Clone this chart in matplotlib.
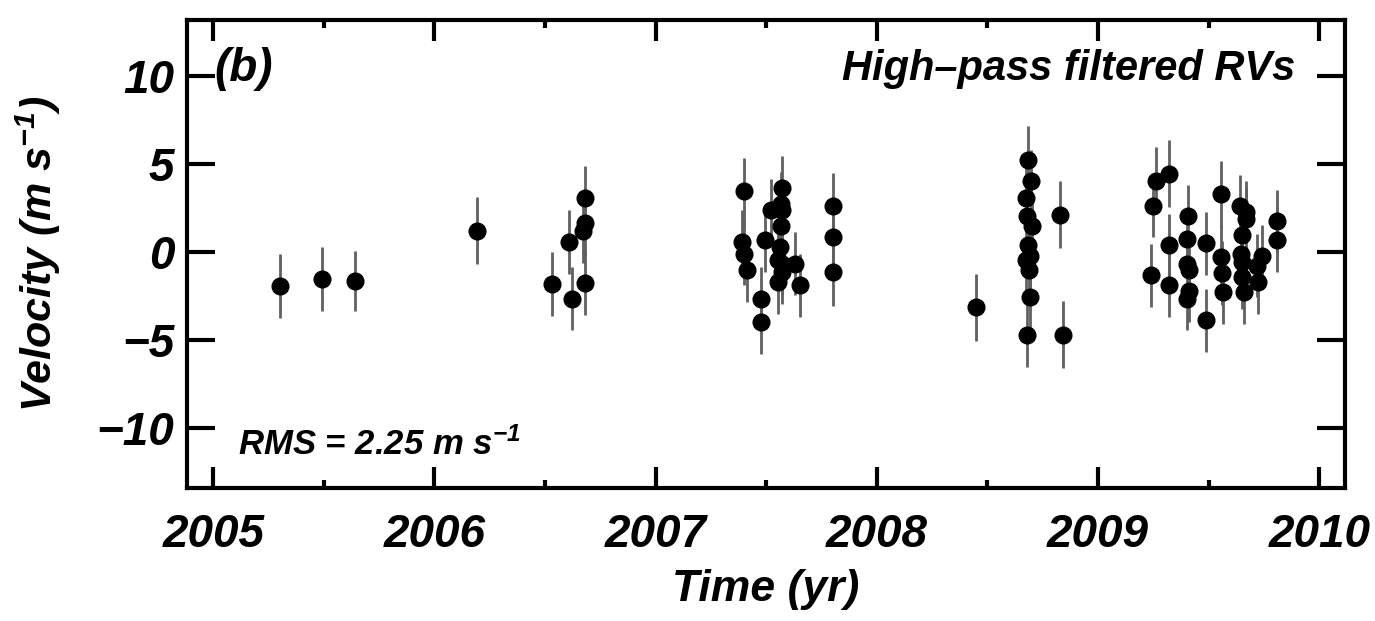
import matplotlib
matplotlib.use('Agg')
import matplotlib.pyplot as plt
from matplotlib.ticker import MultipleLocator

plt.rcParams['font.family'] = ['Liberation Sans', 'DejaVu Sans']
plt.rcParams['font.weight'] = 'bold'
plt.rcParams['font.style'] = 'italic'
plt.rcParams['axes.labelweight'] = 'bold'
plt.rcParams['mathtext.default'] = 'regular'

# epoca (ano decimal), velocidade filtrada e erro, em m/s
tempo = [2005.30, 2005.49, 2005.64,
         2006.19, 2006.53, 2006.61, 2006.62, 2006.68, 2006.68, 2006.67, 2006.68,
         2007.40, 2007.39, 2007.40, 2007.415, 2007.476, 2007.474, 2007.495,
         2007.52, 2007.57, 2007.565, 2007.57, 2007.565, 2007.56, 2007.555,
         2007.57, 2007.57, 2007.555, 2007.63, 2007.654, 2007.80, 2007.80, 2007.80,
         2008.45, 2008.684, 2008.696, 2008.672, 2008.677, 2008.70, 2008.684,
         2008.69, 2008.672, 2008.686, 2008.69, 2008.677, 2008.83, 2008.84,
         2009.26, 2009.32, 2009.25, 2009.24, 2009.32, 2009.32, 2009.405, 2009.40,
         2009.40, 2009.41, 2009.41, 2009.40, 2009.49, 2009.49, 2009.555, 2009.555,
         2009.558, 2009.565, 2009.64, 2009.668, 2009.668, 2009.65, 2009.645,
         2009.65, 2009.65, 2009.66, 2009.74, 2009.72, 2009.725, 2009.81, 2009.81]

veloc = [-1.93, -1.53, -1.66,
         1.23, -1.80, 0.57, -2.65, 3.09, 1.65, 1.19, -1.76,
         3.47, 0.57, -0.09, -1.04, -2.65, -3.98, 0.70,
         2.37, 3.66, 2.75, 2.37, 1.46, 0.32, -0.43,
         -0.66, -1.14, -1.70, -0.66, -1.89, 2.60, 0.85, -1.14,
         -3.12, 5.25, 4.02, 3.07, 2.03, 1.46, 0.42,
         -0.19, -0.47, -1.00, -2.55, -4.73, 2.12, -4.68,
         4.07, 4.45, 2.65, -1.32, 0.38, -1.89, 2.03, 0.72,
         -0.66, -1.04, -2.18, -2.65, -3.88, 0.51, 3.28, -0.28,
         -1.19, -2.27, 2.60, 2.27, 1.90, 0.95, -0.09,
         -0.57, -1.42, -2.27, -0.24, -0.76, -1.70, 1.76, 0.70]

erro = [1.8, 1.8, 1.7,
        1.9, 1.8, 1.8, 1.8, 1.8, 1.8, 1.8, 1.8,
        1.9, 1.8, 1.8, 1.8, 1.8, 1.8, 1.8,
        1.8, 1.8, 1.8, 1.8, 1.8, 1.8, 1.8,
        1.8, 1.8, 1.8, 1.8, 1.8, 1.9, 1.9, 1.9,
        1.9, 1.9, 1.8, 1.8, 1.8, 1.8, 1.8,
        1.8, 1.8, 1.8, 1.8, 1.8, 1.9, 1.9,
        1.9, 1.9, 1.8, 1.8, 1.8, 1.8, 1.8, 1.8,
        1.8, 1.8, 1.8, 1.8, 1.8, 1.8, 1.9, 1.8,
        1.8, 1.8, 1.8, 1.8, 1.8, 1.8, 1.8,
        1.8, 1.8, 1.8, 1.8, 1.8, 1.8, 1.8, 1.8]

anos = [2005, 2006, 2007, 2008, 2009, 2010]
rot_anos = ['2005', '2006', '2007', '2008', '2009', '2010']
niveis = [-10, -5, 0, 5, 10]
rot_niveis = ['\u221210', '\u22125', '0', '5', '10']

fig = plt.figure(figsize=(13.75, 6.21), dpi=100)
ax = fig.add_axes([0.1358, 0.2142, 0.8422, 0.7538])

ax.errorbar(tempo, veloc, yerr=erro, fmt='o', color='black', ms=12,
            ecolor='#606060', elinewidth=2, capsize=0)

ax.set_xlim(2004.88, 2010.115)
ax.set_ylim(-13.4, 13.2)

ax.set_xticks(anos)
ax.set_xticklabels(rot_anos)
ax.xaxis.set_minor_locator(MultipleLocator(0.5))
ax.set_yticks(niveis)
ax.set_yticklabels(rot_niveis)

ax.tick_params(which='both', direction='in', top=True, right=True, width=3,
               labelsize=33)
ax.tick_params(axis='y', which='major', length=20, pad=9)
ax.tick_params(axis='x', which='major', length=15, pad=18)
ax.tick_params(axis='x', which='minor', length=6)
for s in ax.spines.values():
    s.set_linewidth(3)

ax.set_xlabel('Time (yr)', fontsize=32, labelpad=9)
ax.set_ylabel('Velocity (m s$^{-1}$)', fontsize=31, labelpad=24)

ax.text(0.024, 0.895, '(b)', transform=ax.transAxes, fontsize=33,
        ha='left', va='center')
ax.text(0.957, 0.895, 'High\u2013pass filtered RVs', transform=ax.transAxes,
        fontsize=30, ha='right', va='center')
ax.text(0.044, 0.07, 'RMS = 2.25 m s$^{-1}$', transform=ax.transAxes,
        fontsize=25, ha='left', va='baseline')

plt.savefig('out.png', dpi=100)
